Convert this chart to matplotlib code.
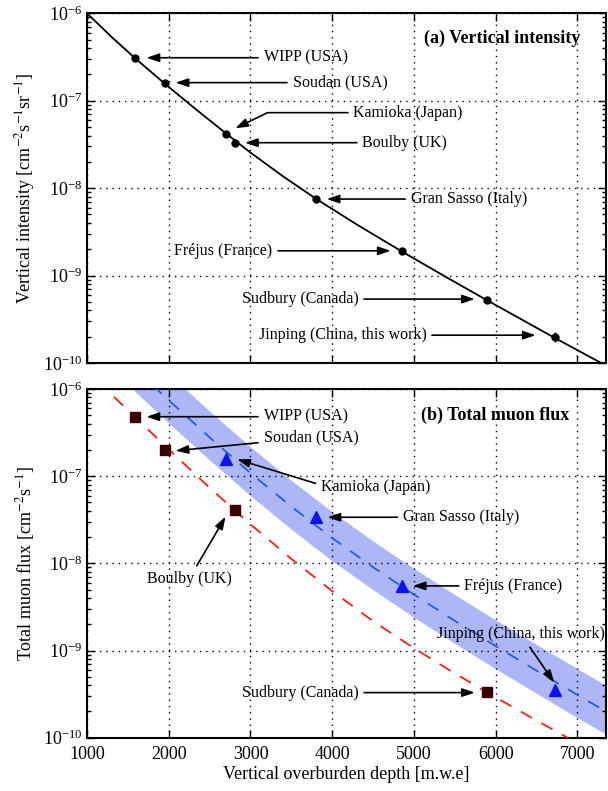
import numpy as np
import matplotlib
matplotlib.use("Agg")
import matplotlib.pyplot as plt
from matplotlib.ticker import LogLocator, NullFormatter

plt.rcParams['font.family'] = ['Liberation Serif', 'DejaVu Serif']
plt.rcParams['mathtext.fontset'] = 'stix'

# sites and depths [m.w.e]
sites = ["WIPP (USA)", "Soudan (USA)", "Kamioka (Japan)", "Boulby (UK)",
         "Gran Sasso (Italy)", "Fréjus (France)", "Sudbury (Canada)",
         "Jinping (China, this work)"]
depth = [1585, 1950, 2700, 2805, 3800, 4850, 5890, 6720]

# (a) vertical intensity [cm^-2 s^-1 sr^-1]
v_int = [3.1e-7, 1.6e-7, 4.2e-8, 3.3e-8, 7.5e-9, 1.9e-9, 5.3e-10, 2.0e-10]
v_err_jinping = 0.26e-10
fit_depth = [1000, 1300, 1585, 1950, 2300, 2700, 3000, 3400, 3800, 4300,
             4850, 5400, 5890, 6300, 6720, 7290]
fit_int = [1.0e-6, 5.37e-7, 3.08e-7, 1.57e-7, 8.43e-8, 4.23e-8, 2.55e-8,
           1.36e-8, 7.57e-9, 3.84e-9, 1.89e-9, 9.53e-10, 5.24e-10, 3.21e-10,
           1.94e-10, 1.0e-10]

# (b) total muon flux [cm^-2 s^-1]
sq_depth = [1585, 1950, 2805, 5890]          # WIPP, Soudan, Boulby, Sudbury
sq_flux = [4.77e-7, 2.0e-7, 4.09e-8, 3.31e-10]
tri_depth = [2700, 3800, 4850, 6720]         # Kamioka, Gran Sasso, Frejus, Jinping
tri_flux = [1.58e-7, 3.41e-8, 5.47e-9, 3.53e-10]

red_depth = [1330, 1500, 2000, 2500, 3000, 3500, 4000, 4500, 5000, 5500,
             6000, 6500, 6900]
red_flux = [8.13e-7, 5.71e-7, 2.03e-7, 7.36e-8, 2.80e-8, 1.127e-8, 4.81e-9,
            2.17e-9, 1.064e-9, 5.46e-10, 2.90e-10, 1.574e-10, 9.75e-11]

blue_depth = [1800, 2000, 2500, 3000, 3500, 4000, 4500, 5000, 5500, 6000,
              6500, 7000, 7350]
blue_flux = [1.109e-6, 7.43e-7, 2.79e-7, 1.086e-7, 4.48e-8, 1.95e-8, 9.03e-9,
             4.38e-9, 2.19e-9, 1.125e-9, 5.87e-10, 3.10e-10, 1.99e-10]

band_depth = [1500, 1800, 2000, 2500, 3000, 3500, 4000, 4500, 5000, 5500,
              6000, 6500, 7000, 7350]
band_hi = [4.06e-6, 2.21e-6, 1.48e-6, 5.57e-7, 2.17e-7, 8.93e-8, 3.90e-8,
           1.80e-8, 8.73e-9, 4.38e-9, 2.24e-9, 1.17e-9, 6.18e-10, 3.97e-10]
band_lo = [1.12e-6, 6.10e-7, 4.08e-7, 1.53e-7, 5.97e-8, 2.46e-8, 1.07e-8,
           4.97e-9, 2.40e-9, 1.205e-9, 6.18e-10, 3.22e-10, 1.70e-10, 1.09e-10]

# label placement: (arrow head, text position, alignment)
labels_a = [
    ((1728, 3.1e-7), (3160, 3.1e-7), 'left'),
    ((2084, 1.61e-7), (3515, 1.61e-7), 'left'),
    ((2814, 4.83e-8), (4260, 7.3e-8), 'left'),
    ((2933, 3.31e-8), (4369, 3.31e-8), 'left'),
    ((3932, 7.5e-9), (4962, 7.5e-9), 'left'),
    ((4715, 1.92e-9), (3269, 1.92e-9), 'right'),
    ((5744, 5.38e-10), (4321, 5.38e-10), 'right'),
    ((6489, 2.08e-10), (5152, 2.08e-10), 'right'),
]
labels_b = [
    ((1728, 4.81e-7), (3160, 4.81e-7), 'left'),
    ((2084, 1.96e-7), (3160, 2.77e-7), 'left'),
    ((2837, 1.56e-7), (3862, 7.59e-8), 'left'),
    ((2695, 3.43e-8), (2248, 6.62e-9), 'center'),
    ((3942, 3.38e-8), (4866, 3.38e-8), 'left'),
    ((4985, 5.51e-9), (5615, 5.51e-9), 'left'),
    ((5744, 3.29e-10), (4321, 3.29e-10), 'right'),
    ((6716, 4.28e-10), (6309, 1.54e-9), 'center'),
]

fig = plt.figure(figsize=(6.08, 7.91), dpi=100)
ax1 = fig.add_axes([0.1431, 0.5411, 0.8536, 0.4421])
ax2 = fig.add_axes([0.1431, 0.0674, 0.8536, 0.4408])

for ax in (ax1, ax2):
    ax.set_yscale('log')
    ax.set_xlim(1000, 7349)
    ax.set_ylim(1e-10, 1e-6)
    ax.set_xticks([1000, 2000, 3000, 4000, 5000, 6000, 7000])
    ax.yaxis.set_major_locator(LogLocator(base=10, numticks=10))
    ax.yaxis.set_minor_locator(LogLocator(base=10, subs=np.arange(2, 10), numticks=20))
    ax.yaxis.set_minor_formatter(NullFormatter())
    ax.grid(True, which='major', color='k', ls=(0, (1, 3.5)), lw=1.0)
    ax.tick_params(which='both', direction='in', top=True, right=True,
                   labelsize=13, width=1.0)
    ax.tick_params(which='major', length=6)
    ax.tick_params(which='minor', length=3)
    ax.tick_params(axis='x', pad=6)
    for sp in ax.spines.values():
        sp.set_linewidth(1.5)

arrow_kw = dict(arrowstyle='-|>,head_length=0.5,head_width=0.17', color='k',
                lw=1.2, shrinkA=2, shrinkB=0, mutation_scale=15)

# (a) vertical intensity
ax1.plot(fit_depth, fit_int, color='k', lw=1.3, zorder=3)
ax1.plot(depth, v_int, 'o', color='k', ms=5, zorder=4)
ax1.errorbar(depth[-1], v_int[-1], yerr=v_err_jinping, fmt='none', ecolor='k',
             elinewidth=1.0, capsize=0, zorder=4)
for name, (head, txt, ha) in zip(sites, labels_a):
    kw = dict(arrow_kw)
    if name.startswith("Kamioka"):
        kw['connectionstyle'] = "angle,angleA=0,angleB=26,rad=0"
    ax1.annotate(name, xy=head, xytext=txt, ha=ha, va='center', fontsize=11.5,
                 arrowprops=kw, zorder=5)
ax1.text(0.95, 0.929, "(a) Vertical intensity", transform=ax1.transAxes,
         ha='right', va='center', fontsize=13, fontweight='bold')
ax1.set_ylabel(r"Vertical intensity [cm$^{-2}$s$^{-1}$sr$^{-1}$]", fontsize=13)
ax1.tick_params(labelbottom=False)

# (b) total muon flux
ax2.fill_between(band_depth, band_lo, band_hi, color='#adb6f6', lw=0, zorder=1)
ax2.plot(blue_depth, blue_flux, color='#1f5ee0', lw=1.3, ls=(0, (7, 6)), zorder=3)
ax2.plot(red_depth, red_flux, color='#ff1a1a', lw=1.3, ls=(0, (7, 6)), zorder=3)
ax2.plot(sq_depth, sq_flux, 's', color='#3a0000', ms=7, zorder=4)
ax2.plot(tri_depth, tri_flux, '^', color='#0a14f0', ms=9, zorder=4)
for name, (head, txt, ha) in zip(sites, labels_b):
    kw = dict(arrow_kw)
    if name.startswith("Kamioka"):
        kw['relpos'] = (0.0, 0.6)
    ax2.annotate(name, xy=head, xytext=txt, ha=ha, va='center', fontsize=11.5,
                 arrowprops=kw, zorder=5)
ax2.text(0.643, 0.925, "(b) Total muon flux", transform=ax2.transAxes,
         ha='left', va='center', fontsize=13, fontweight='bold')
ax2.set_ylabel(r"Total muon flux [cm$^{-2}$s$^{-1}$]", fontsize=13)
ax2.set_xlabel("Vertical overburden depth [m.w.e]", fontsize=13, labelpad=2)

fig.savefig("out.png", dpi=100)
